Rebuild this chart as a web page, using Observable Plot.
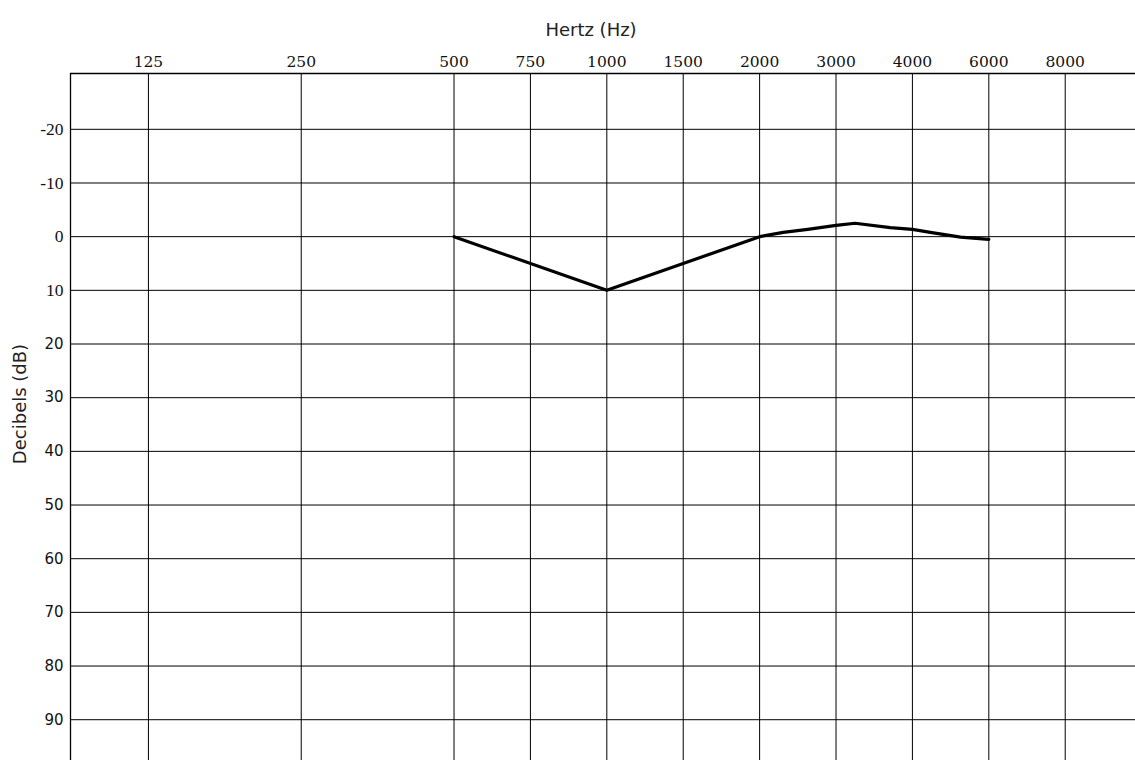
<!DOCTYPE html>
<html>
<head>
<meta charset="utf-8">
<script src="https://cdn.jsdelivr.net/npm/d3@7"></script>
<script src="https://cdn.jsdelivr.net/npm/@observablehq/plot@0.6"></script>
<style>
  html, body { margin: 0; padding: 0; background: #fff; }
  #chart svg { display: block; }
</style>
</head>
<body>
<div id="chart"></div>
<script>
// Audiogram frequencies (Hz) and hearing-level gridlines (dB)
const frequencies = [125, 250, 500, 750, 1000, 1500, 2000, 3000, 4000, 6000, 8000];
const levelTicks = [-20, -10, 0, 10, 20, 30, 40, 50, 60, 70, 80, 90];

// Hearing threshold trace
const traceHz = [500, 1000, 2000, 2310, 2630, 3000, 3250, 3710, 4000, 4470, 5260, 6000];
const traceDb = [0, 10, 0, -0.8, -1.35, -2.1, -2.5, -1.7, -1.35, -0.8, 0.1, 0.5];

// Audiogram axis: octaves equally spaced, half-octave frequencies midway
const octave = d3.scaleLinear()
  .domain(frequencies)
  .range(frequencies.map(f => Math.round(2 * Math.log2(f / 125)) / 2));
const labelAt = new Map(frequencies.map(f => [octave(f), String(f)]));

const trace = traceHz.map((hz, i) => ({hz, db: traceDb[i]}));

const xDomain = [-0.51, 6.46];
const yDomain = [-30.4, 97.6];
const serif = "'Liberation Serif', serif";
const wideSerif = "'DejaVu Serif', serif";
const sans = "'DejaVu Sans', Verdana, sans-serif";

const chart = Plot.plot({
  width: 1135,
  height: 760,
  marginTop: 73,
  marginLeft: 70,
  marginRight: 0,
  marginBottom: 0,
  style: {background: "#fff", color: "#000", overflow: "visible"},
  x: {type: "linear", domain: xDomain},
  y: {type: "linear", domain: yDomain, reverse: true},
  marks: [
    Plot.gridX(frequencies.map(f => octave(f)), {stroke: "#000", strokeOpacity: 1, strokeWidth: 1}),
    Plot.gridY(levelTicks, {stroke: "#000", strokeOpacity: 1, strokeWidth: 1}),
    // chart border along the top and left edges
    Plot.ruleY([yDomain[0]], {stroke: "#000", strokeWidth: 1.3}),
    Plot.ruleX([xDomain[0]], {stroke: "#000", strokeWidth: 1.3}),
    Plot.axisX(frequencies.map(f => octave(f)), {
      anchor: "top", tickSize: 0, tickPadding: 7, label: null,
      tickFormat: p => labelAt.get(p), fontSize: 15.5, fontFamily: wideSerif, fill: "#111"
    }),
    Plot.axisY(levelTicks.filter(v => v <= 10), {
      anchor: "left", tickSize: 0, tickPadding: 7, label: null,
      tickFormat: d => String(d), fontSize: 17.5, fontFamily: serif, fill: "#111"
    }),
    Plot.axisY(levelTicks.filter(v => v > 10), {
      anchor: "left", tickSize: 0, tickPadding: 7, label: null,
      tickFormat: d => String(d), fontSize: 15, fontFamily: sans, fill: "#111"
    }),
    Plot.text(["Hertz (Hz)"], {
      frameAnchor: "top", dx: -12, dy: -50, fontSize: 18, fontFamily: sans, fill: "#222"
    }),
    Plot.text(["Decibels (dB)"], {
      frameAnchor: "left", textAnchor: "middle", rotate: -90, dx: -50, dy: -13,
      fontSize: 18, fontFamily: sans, fill: "#222"
    }),
    Plot.line(trace, {
      x: d => octave(d.hz), y: "db", stroke: "#000", strokeWidth: 3.2,
      strokeLinejoin: "round", strokeLinecap: "round"
    })
  ]
});

document.getElementById("chart").append(chart);
</script>
</body>
</html>
